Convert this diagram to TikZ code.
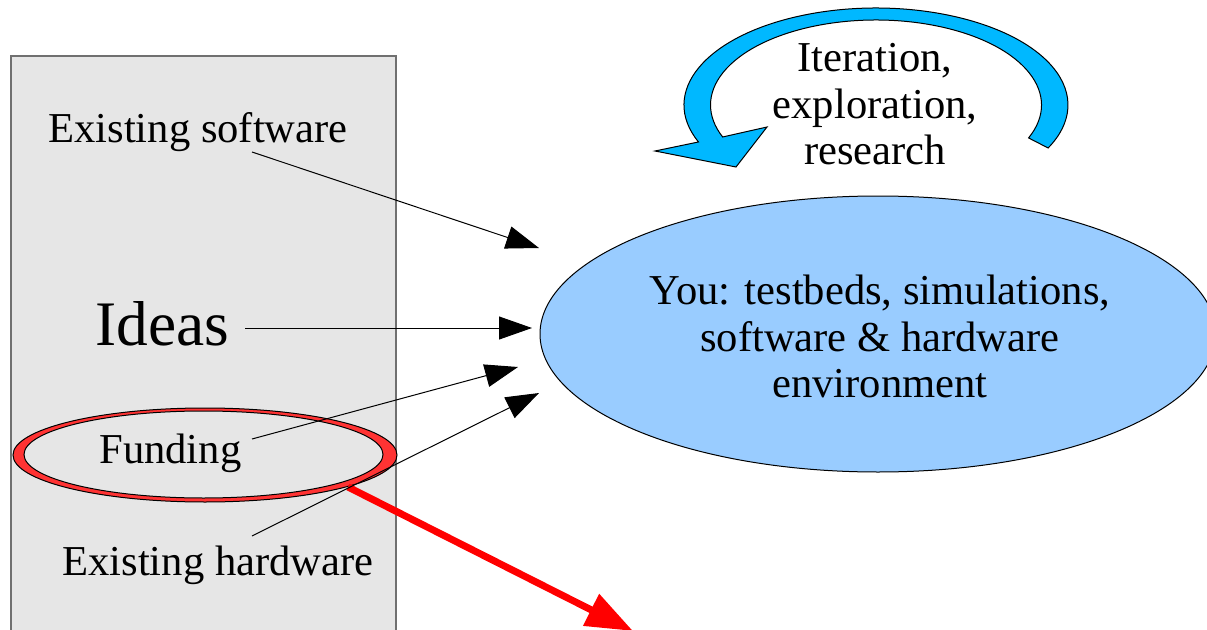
\documentclass[tikz,border=0pt]{standalone}
\usepackage{fontspec}
\setmainfont{Liberation Serif}
\usetikzlibrary{arrows.meta,shapes.geometric,calc}
\definecolor{panelgray}{HTML}{E6E6E6}
\definecolor{panelborder}{HTML}{707070}
\definecolor{youblue}{HTML}{99CCFF}
\definecolor{loopblue}{HTML}{00B8FF}
\definecolor{ringred}{HTML}{FF3333}
\tikzset{
  lbl/.style={inner sep=0pt, font=\fontsize{21.3}{23.25}\selectfont},
  feed/.style={draw=black, line width=0.5pt, -{Triangle[length=16.5pt,width=11.5pt]}},
  redarrow/.style={draw=red, line width=3.5pt, -{Triangle[length=23.5pt,width=17pt]}},
}
\begin{document}
\begin{tikzpicture}[x=0.5pt,y=0.5pt]
\useasboundingbox (0,0) rectangle (1207,629);
\clip (0,0) rectangle (1207,629);
% left panel
\path[fill=panelgray, draw=panelborder, line width=0.6pt] (11,-10) rectangle (396,573);
% funding ring
\path[fill=ringred, draw=black, line width=0.5pt] (205,174) ellipse [x radius=192, y radius=47];
\path[fill=panelgray, draw=black, line width=0.5pt] (203.5,174.5) ellipse [x radius=179.5, y radius=43.5];
% "You" ellipse
\node (you) [ellipse, draw=black, line width=0.5pt, fill=youblue, minimum width=338pt, minimum height=138pt, inner sep=0pt] at (878,295) {};
\node (youtxt) [lbl, align=center] at (880,292.5) {You: testbeds, simulations,\\software \& hardware\\environment};
% loop arrow
\coordinate (C) at (876,524);
\path[fill=loopblue, draw=black, line width=0.5pt]
  ($(C)+(202.4:192 and 97)$) arc[start angle=202.4, end angle=-26.3, x radius=192, y radius=97]
  -- ($(C)+(-22.8:165.5 and 85)$) arc[start angle=-22.8, end angle=202.1, x radius=165.5, y radius=85]
  -- (767,502) -- (736,462) -- (655,478) -- cycle;
\node (loop) [lbl, align=center] at (875,524.6) {Iteration,\\exploration,\\research};
% left labels
\node (es) [lbl, anchor=base west] at (48,487) {Existing software};
\node (ideas) [inner sep=0pt, font=\fontsize{31.7}{34}\selectfont, anchor=base west] at (95,284) {Ideas};
\node (fund) [lbl, anchor=base west] at (99,166) {Funding};
\node (eh) [lbl, anchor=base west] at (62,54) {Existing hardware};
% connector end points
\coordinate (esS) at (252,477);   \coordinate (esT) at (539,381);
\coordinate (idS) at (245,301);   \coordinate (idT) at (532,301);
\coordinate (fuS) at (252,190);   \coordinate (fuT) at (518,262);
\coordinate (ehS) at (252,93);    \coordinate (ehT) at (539,236);
\coordinate (redS) at (348,142);  \coordinate (redT) at (633,-2);
% red arrow
\draw[redarrow] (redS) -- (redT);
% black arrows
\draw[feed] (esS) -- (esT);
\draw[feed] (idS) -- (idT);
\draw[feed] (fuS) -- (fuT);
\draw[feed] (ehS) -- (ehT);
\end{tikzpicture}
\end{document}
